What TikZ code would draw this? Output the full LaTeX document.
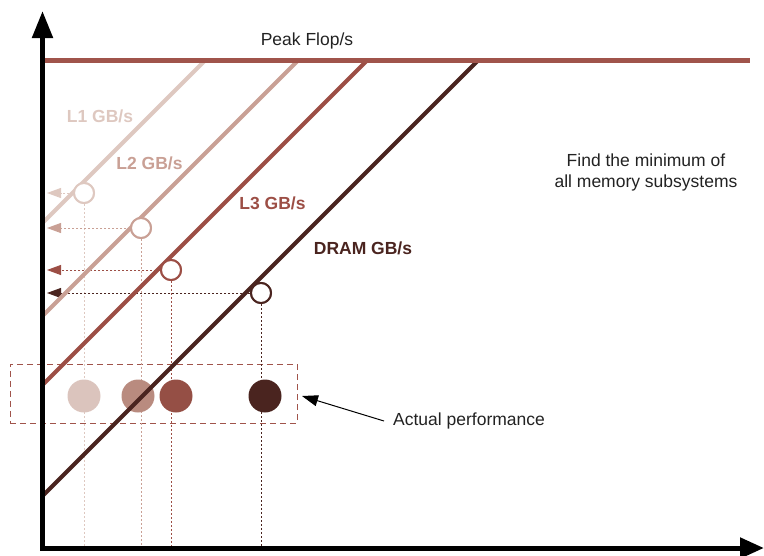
\documentclass[tikz,border=0pt]{standalone}
\usepackage{fontspec}
\setmainfont{Liberation Sans}
\usetikzlibrary{arrows.meta}

\definecolor{peakcol}{HTML}{A0544B}
\definecolor{lonecol}{HTML}{DEC8C0}
\definecolor{ltwocol}{HTML}{C9A095}
\definecolor{lthreecol}{HTML}{9C4E45}
\definecolor{dramcol}{HTML}{4A241F}
\definecolor{lonedot}{HTML}{DBC4BD}
\definecolor{ltwodot}{HTML}{B98B7F}
\definecolor{lthreedot}{HTML}{954F45}
\definecolor{txtcol}{HTML}{222222}

\begin{document}
\begin{tikzpicture}[x=1pt, y=-1pt,
  font=\fontsize{17.5}{21}\selectfont,
  roof/.style={line width=4.2pt},
  probe/.style={line width=0.9pt, dash pattern=on 2pt off 2pt},
  probetip/.style={-{Triangle[length=14pt,width=10pt]}},
  ring/.style={circle, draw, line width=2pt, fill=white, inner sep=0pt, minimum size=20pt},
  dot/.style={circle, inner sep=0pt, minimum size=33pt},
  tag/.style={font=\fontsize{17.5}{21}\selectfont\bfseries}]
  \useasboundingbox (0,0) rectangle (764,555);
  \coordinate (O) at (42.5,548);
  \coordinate (ytop) at (42.5,11);
  \coordinate (xend) at (764,548);
  \coordinate (yarr) at (47,0);
  \coordinate (xline) at (0,546);

  % measured performance
  \node[draw=peakcol, line width=1pt, dash pattern=on 6pt off 4pt, minimum width=287pt, minimum height=59pt] (perf) at (153.5,393.5) {};

  % bandwidth circles
  \node[ring, draw=lonecol] (lone) at (84,193) {};
  \node[ring, draw=ltwocol] (ltwo) at (141,228) {};
  \node[ring, draw=lthreecol] (lthree) at (171,270) {};
  \node[ring, draw=dramcol] (dram) at (261,293) {};

  \draw[probe, lonecol] (lone) -- (lone |- xline);
  \draw[probe, ltwocol] (ltwo) -- (ltwo |- xline);
  \draw[probe, lthreecol] (lthree) -- (lthree |- xline);
  \draw[probe, dramcol] (dram) -- (dram |- xline);
  \draw[probe, probetip, lonecol] (lone) -- (lone -| yarr);
  \draw[probe, probetip, ltwocol] (ltwo) -- (ltwo -| yarr);
  \draw[probe, probetip, lthreecol] (lthree) -- (lthree -| yarr);
  \draw[probe, probetip, dramcol] (dram) -- (dram -| yarr);

  \node[dot, fill=lonedot] (lonepf) at (84,396) {};
  \node[dot, fill=ltwodot] (ltwopf) at (138,396) {};
  \node[dot, fill=lthreedot] (lthreepf) at (176,396) {};
  \node[dot, fill=dramcol] (drampf) at (265,396) {};

  % rooflines
  \draw[roof, lonecol] (205,60.5) -- (43,222.5);
  \draw[roof, ltwocol] (298,60.5) -- (43,315.5);
  \draw[roof, lthreecol] (367,60.5) -- (43,384.5);
  \draw[roof, dramcol] (478,60.5) -- (43,495.5);
  \draw[roof, peakcol] (45,60.5) -- (750,60.5);

  \node[ring, draw=lonecol] at (lone) {};
  \node[ring, draw=ltwocol] at (ltwo) {};
  \node[ring, draw=lthreecol] at (lthree) {};
  \node[ring, draw=dramcol] at (dram) {};

  % axes
  \draw[line width=5pt, -{Triangle[length=27pt,width=20pt]}] ([yshift=-2.5pt]O) -- (ytop);
  \draw[line width=5pt, -{Triangle[length=24pt,width=20pt]}] ([xshift=-2.5pt]O) -- (xend);

  \node[txtcol] (peak) at (307,40.5) {Peak Flop/s};
  \node[tag, lonecol] (lonelbl) at (100,116) {L1 GB/s};
  \node[tag, ltwocol] (ltwolbl) at (149.5,163.5) {L2 GB/s};
  \node[tag, lthreecol] (lthreelbl) at (272.5,203.5) {L3 GB/s};
  \node[tag, dramcol] (dramlbl) at (363,248.5) {DRAM GB/s};
  \node[txtcol, align=center] (minnote) at (646,172.5) {Find the minimum of\\all memory subsystems};
  \node[txtcol, anchor=west, inner sep=9pt] (actual) at (384,421) {Actual performance};
  \coordinate (perftip) at (302,396);
  \draw[line width=1pt, -{Triangle[length=16pt,width=11pt]}] (actual.west) -- (perftip);
\end{tikzpicture}
\end{document}
